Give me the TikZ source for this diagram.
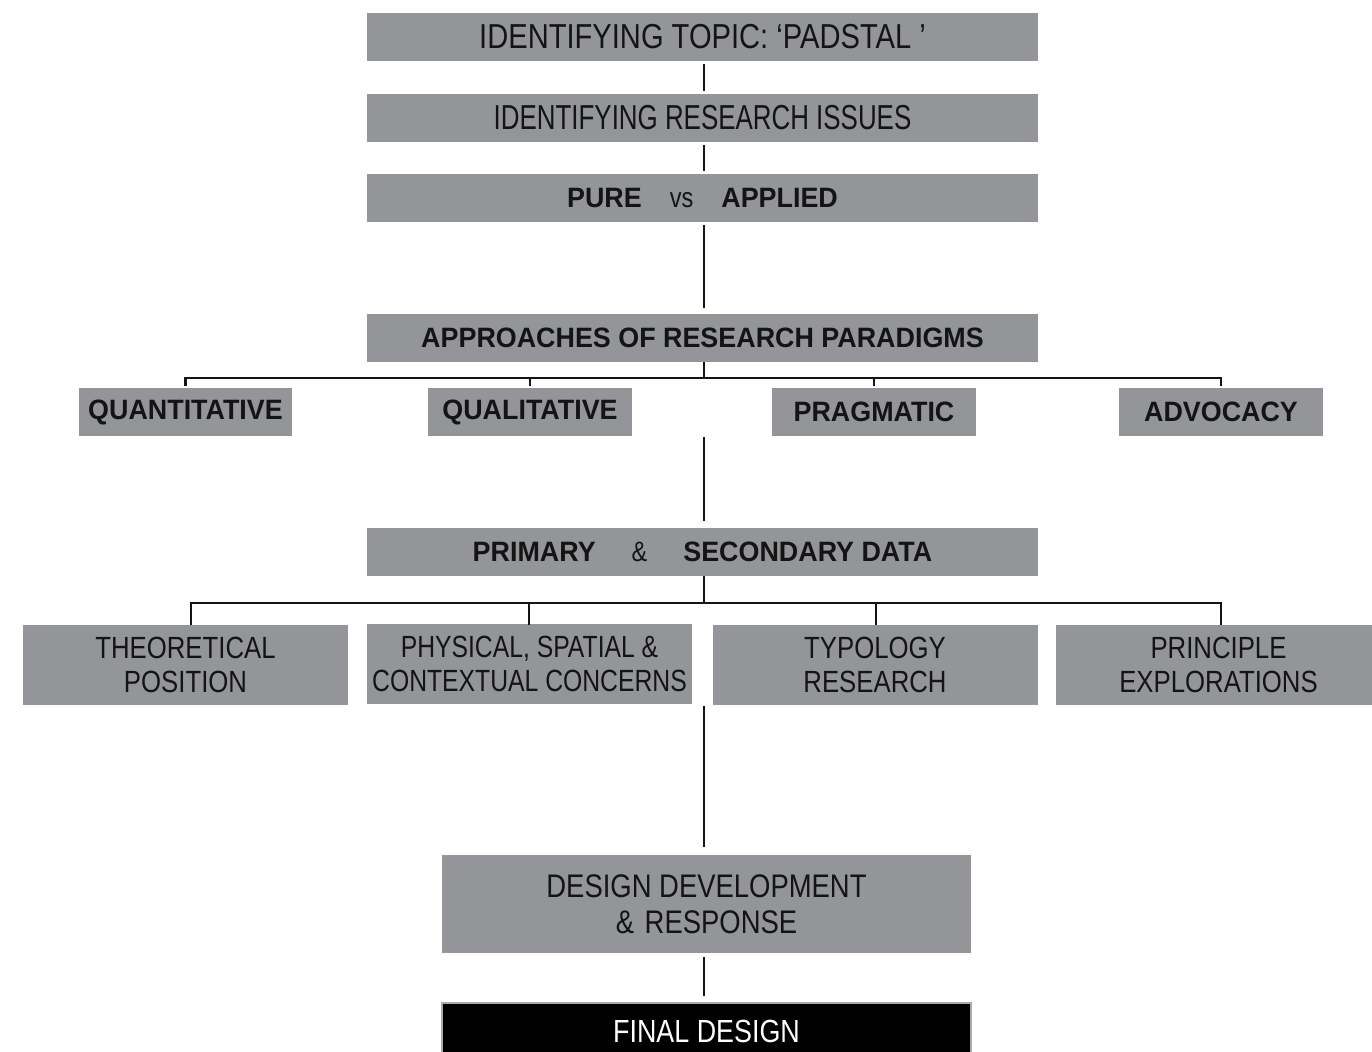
\documentclass[tikz,border=0pt]{standalone}
\usepackage{fontspec}
\setmainfont{Liberation Sans}[FakeStretch=0.84, BoldFeatures={FakeStretch=0.96}]
\definecolor{boxgray}{RGB}{147,149,152}
\definecolor{ink}{RGB}{20,20,20}
\definecolor{edgegray}{RGB}{170,170,170}
\tikzset{
  box/.style={fill=boxgray, inner sep=0pt, text=ink, align=center},
  wide/.style={box, minimum width=503.25pt, minimum height=36pt},
  small/.style={box, minimum width=153pt, minimum height=36pt},
  cell/.style={box, minimum width=243.75pt, minimum height=60pt},
  conn/.style={draw=ink, line width=1.9pt},
  bracket/.style={draw=ink, line width=2pt},
  regtxt/.style={font=\fontsize{26}{28}\selectfont},
  boldtxt/.style={font=\fontsize{21}{24}\selectfont\bfseries},
  rowtxt/.style={font=\fontsize{23}{26}\selectfont},
}
\begin{document}
\begin{tikzpicture}[x=0.75pt,y=-0.75pt]
\clip (0,0) rectangle (1372,1051);
\useasboundingbox (0,0) rectangle (1372,1051);
\node[wide, regtxt] (b1) at (702.5,37) {IDENTIFYING TOPIC: ‘PADSTAL ’};
\node[wide, regtxt] (b2) at (702.5,118) {\scalebox{0.89}[1]{IDENTIFYING RESEARCH ISSUES}};
\node[wide, boldtxt] (b3) at (702.5,198) {PURE\hspace{21pt}{\mdseries vs}\hspace{21pt}APPLIED};
\node[wide, boldtxt] (b4) at (702.5,338) {APPROACHES OF RESEARCH PARADIGMS};
\node[small, boldtxt, minimum width=159.75pt] (q1) at (185.5,412) {\raisebox{-1.5pt}{QUANTITATIVE}};
\node[small, boldtxt] (q2) at (530,412) {\raisebox{-2pt}{QUALITATIVE}};
\node[small, boldtxt] (q3) at (874,412) {PRAGMATIC};
\node[small, boldtxt] (q4) at (1221,412) {ADVOCACY};
\node[wide, boldtxt] (b5) at (702.5,552) {PRIMARY\hspace{27pt}{\mdseries\&}\hspace{27pt}SECONDARY DATA};
\node[cell, rowtxt] (c1) at (185.5,665) {THEORETICAL\\POSITION};
\node[cell, rowtxt] (c2) at (529.5,664) {\scalebox{0.96}[1]{PHYSICAL, SPATIAL \&}\\\scalebox{0.96}[1]{CONTEXTUAL CONCERNS}};
\node[cell, rowtxt] (c3) at (875,665) {TYPOLOGY\\RESEARCH};
\node[cell, rowtxt] (c4) at (1218.5,665) {PRINCIPLE\\EXPLORATIONS};
\node[box, font=\fontsize{24.5}{27}\selectfont, minimum width=396.75pt, minimum height=73.5pt] (b6) at (706.5,904) {DESIGN DEVELOPMENT\\\&\hspace{8pt}RESPONSE};
\node[fill=black, draw=edgegray, line width=1.5pt, inner sep=0pt, minimum width=396.75pt, minimum height=42pt, text=white, font=\fontsize{24}{26}\selectfont] (fin) at (706.5,1031) {FINAL DESIGN};
% connectors
\draw[conn, shorten <=3*0.75pt, shorten >=3*0.75pt] (b1.south -| 704,0) -- (b2.north -| 704,0);
\draw[conn, shorten <=3*0.75pt, shorten >=3*0.75pt] (b2.south -| 704,0) -- (b3.north -| 704,0);
\draw[conn, shorten <=3*0.75pt, shorten >=6*0.75pt] (b3.south -| 704,0) -- (b4.north -| 704,0);
\coordinate (h1) at (704,378);
\draw[bracket] (b4.south -| 704,0) -- (h1);
\foreach \n in {q1,q2,q3,q4}{
  \draw[bracket, shorten <=2*0.75pt] (\n.north) |- (h1);
}
\coordinate (r1) at (704,437);
\draw[conn, shorten >=7*0.75pt] (r1) -- (r1 |- b5.north);
\coordinate (h2) at (704,603);
\draw[bracket] (b5.south -| 704,0) -- (h2);
\coordinate (t1) at (191,625);
\coordinate (t2) at (529,625);
\coordinate (t3) at (876,625);
\coordinate (t4) at (1221,625);
\foreach \n in {t1,t2,t3,t4}{
  \draw[bracket] (\n) |- (h2);
}
\coordinate (r2) at (704,706);
\draw[conn, shorten >=8*0.75pt] (r2) -- (r2 |- b6.north);
\draw[conn, shorten <=4*0.75pt, shorten >=6*0.75pt] (b6.south -| 704,0) -- (fin.north -| 704,0);
\end{tikzpicture}
\end{document}
